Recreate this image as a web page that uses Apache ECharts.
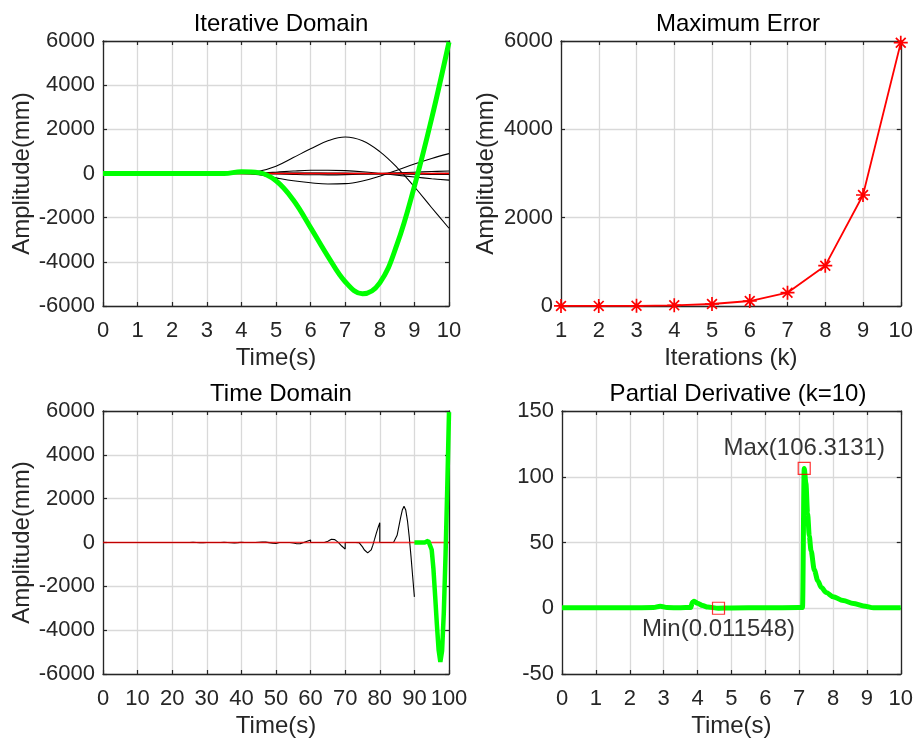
<!DOCTYPE html>
<html>
<head>
<meta charset="utf-8">
<script src="https://cdn.jsdelivr.net/npm/echarts@6/dist/echarts.min.js"></script>
<style>
html,body{margin:0;padding:0;background:#fff;}
#chart{width:916px;height:740px;}
</style>
</head>
<body>
<div id="chart"></div>
<script>
// ---------------- DATA ----------------
const iterTime = [0,0.5,1,1.5,2,2.5,3,3.5,4,4.5,5,5.5,6,6.5,7,7.5,8,8.5,9,9.5,10];
const iter1  = [0,0,0,0,0,0,0,0,0,0.3,0.6,0.8,1,0.8,0.5,0.2,0,-0.2,-0.3,-0.2,0];
const iter2  = [0,0,0,0,0,0,0,0,0.2,0.6,1.2,1.8,2,1.5,0.6,-0.4,-1.2,-1.7,-1.6,-1,-0.3];
const iter3  = [0,0,0,0,0,0,0,0,0.5,1.5,2.5,3.5,4,3,1,-1.5,-3.5,-4.8,-5,-4,-2];
const iter4  = [0,0,0,0,0,0,0,0.2,1,3,4,2,-2,-7,-11,-14,-15,-12,-6,2,10];
const iter5  = [0,0,0,0,0,0,0,0,1,5,12,18,22,22,18,8,-6,-18,-30,-38,-45];
const iter6  = [0,0,0,0,0,0,0,0,-1,-8,-25,-45,-58,-60,-52,-30,0,30,60,88,110];
const iter7  = [0,0,0,0,0,0,0,0,3,20,60,110,145,150,130,80,5,-80,-160,-235,-300];
const iter8  = [0,0,0,0,0,0,0,0,-5,-60,-200,-330,-420,-475,-460,-340,-120,150,430,680,900];
const iter9  = [0,0,0,0,0,0,0,0,10,100,330,720,1120,1480,1650,1480,990,270,-600,-1550,-2480];
const iter10 = [0,0,0,0,0,0,0,0,80,40,-330,-1200,-2450,-3750,-4900,-5450,-4950,-3200,-580,2500,5950];
const referenceTime = [0,10];
const referenceValue = [0,0];

const iterationsK = [1,2,3,4,5,6,7,8,9,10];
const maxError = [1,2,5,15,45,113,302,913,2513,5961];

const pdTime  = [0,1,2,2.7,2.9,3.1,3.5,3.8,3.85,3.9,4.0,4.15,4.3,4.62,5,6,7,7.1,7.15,7.2,7.25,7.3,7.35,7.45,7.55,7.65,7.8,8.0,8.3,8.6,8.9,9.2,9.5,10];
const pdValue = [0.4,0.3,0.4,0.5,1.6,0.5,0.4,0.6,4.5,5.3,3.8,2.0,0.9,0.011548,0.2,0.4,0.5,0.6,106.3131,95,72,55,44,29,21,16,12,8.8,5.8,3.7,1.8,0.4,0.3,0.4];
const maxPoint = [7.15, 106.3131];
const minPoint = [4.62, 0.011548];

const yTicksAmp = [-6000,6000,2000];
const yTicksErr = [0,6000,2000];
const yTicksPd  = [-50,150,50];

// ---------------- BUILD ----------------
const iters = [iter1,iter2,iter3,iter4,iter5,iter6,iter7,iter8,iter9,iter10];
const FONT = 'Liberation Sans';
const AX = '#262626';
const GRIDC = '#d9d9d9';

const grids = [
  {left:103, top:41, width:346, height:265},
  {left:561, top:41, width:344, height:265},
  {left:103, top:411, width:346, height:263},
  {left:562, top:411, width:342, height:263}
];

const xAxes = [], yAxes = [];
function addAxes(g, xr, yr, xname, yname) {
  const common = {
    type:'value', gridIndex:g,
    axisLine:{show:true, onZero:false, lineStyle:{color:AX, width:1.3}},
    axisTick:{show:true, inside:true, length:4, lineStyle:{color:AX, width:1.2}},
  };
  xAxes.push(Object.assign({}, common, {
    min:xr[0], max:xr[1], interval:xr[2], position:'bottom',
    axisLabel:{show:true, fontSize:22, color:AX, margin:14, fontFamily:FONT, formatter:v=>String(v)},
    splitLine:{show:true, lineStyle:{color:GRIDC, width:1.3}},
    name:xname, nameLocation:'middle', nameGap:40,
    nameTextStyle:{fontSize:24, color:AX, fontFamily:FONT}
  }));
  xAxes.push(Object.assign({}, common, {
    min:xr[0], max:xr[1], interval:xr[2], position:'top',
    axisLabel:{show:false}, splitLine:{show:false}
  }));
  yAxes.push(Object.assign({}, common, {
    min:yr[0], max:yr[1], interval:yr[2], position:'left',
    axisLabel:{show:true, fontSize:22, color:AX, margin:8, fontFamily:FONT, formatter:v=>String(v)},
    splitLine:{show:true, lineStyle:{color:GRIDC, width:1.3}},
    name:yname, nameLocation:'middle', nameGap: (g===1 ? 63 : 68),
    nameTextStyle:{fontSize:24, color:AX, fontFamily:FONT}
  }));
  yAxes.push(Object.assign({}, common, {
    min:yr[0], max:yr[1], interval:yr[2], position:'right',
    axisLabel:{show:false}, splitLine:{show:false}
  }));
}
addAxes(0, [0,10,1], yTicksAmp, 'Time(s)', 'Amplitude(mm)');
addAxes(1, [1,10,1], yTicksErr, 'Iterations (k)', 'Amplitude(mm)');
addAxes(2, [0,100,10], yTicksAmp, 'Time(s)', 'Amplitude(mm)');
addAxes(3, [0,10,1], yTicksPd, 'Time(s)', '');

const series = [];
// Iterative domain
for (let k = 0; k < 9; k++) {
  series.push({type:'line', xAxisIndex:0, yAxisIndex:0, symbol:'none', smooth:0.4,
    data: iterTime.map((t,i)=>[t, iters[k][i]]),
    lineStyle:{color:'#000', width:1.1}, z:2});
}
series.push({type:'line', xAxisIndex:0, yAxisIndex:0, symbol:'none',
  data: referenceTime.map((t,i)=>[t, referenceValue[i]]),
  lineStyle:{color:'#ff0000', width:1.5}, z:3});
series.push({type:'line', xAxisIndex:0, yAxisIndex:0, symbol:'none', smooth:0.4,
  data: iterTime.map((t,i)=>[t, iter10[i]]),
  lineStyle:{color:'#00ff00', width:5}, z:4});

// Maximum error
series.push({type:'line', xAxisIndex:2, yAxisIndex:2,
  data: iterationsK.map((k,i)=>[k, maxError[i]]),
  symbol:'path://M0,-10L0,10M-10,0L10,0M-7,-7L7,7M-7,7L7,-7', symbolSize:14, symbolKeepAspect:true,
  itemStyle:{color:'#ff0000', borderColor:'#ff0000', borderWidth:1.7},
  lineStyle:{color:'#ff0000', width:1.8}, z:4});

// Time domain: concatenated iterations
const blackTD = [];
for (let k = 0; k < 9; k++) {
  iterTime.forEach((t,i)=>blackTD.push([k*10 + t, iters[k][i]]));
}
series.push({type:'line', xAxisIndex:4, yAxisIndex:4, symbol:'none', data:blackTD,
  lineStyle:{color:'#000', width:1.1}, z:2});
series.push({type:'line', xAxisIndex:4, yAxisIndex:4, symbol:'none',
  data: referenceTime.map((t,i)=>[t*10, referenceValue[i]]),
  lineStyle:{color:'#ff0000', width:1.5, opacity:0.75}, z:3});
series.push({type:'line', xAxisIndex:4, yAxisIndex:4, symbol:'none',
  data: iterTime.map((t,i)=>[90 + t, iter10[i]]),
  lineStyle:{color:'#00ff00', width:4.5}, z:4});

// Partial derivative
series.push({type:'line', xAxisIndex:6, yAxisIndex:6, symbol:'none', smooth:0.3, smoothMonotone:'x',
  data: pdTime.map((t,i)=>[t, pdValue[i]]),
  lineStyle:{color:'#00ff00', width:5, join:'round'}, z:3});
series.push({type:'scatter', xAxisIndex:6, yAxisIndex:6, symbol:'rect', symbolSize:12,
  data:[maxPoint],
  itemStyle:{color:'rgba(0,0,0,0)', borderColor:'#ff0000', borderWidth:1.2},
  label:{show:true, position:'top', distance:1, formatter:'Max(' + maxPoint[1] + ')',
    fontSize:24, color:'#000', fontFamily:FONT}, z:5});
series.push({type:'scatter', xAxisIndex:6, yAxisIndex:6, symbol:'rect', symbolSize:12,
  data:[minPoint],
  itemStyle:{color:'rgba(0,0,0,0)', borderColor:'#ff0000', borderWidth:1.2},
  label:{show:true, position:'bottom', distance:3, formatter:'Min(' + minPoint[1] + ')',
    fontSize:24, color:'#000', fontFamily:FONT}, z:5});

const titleStyle = {fontSize:24, fontWeight:'normal', color:'#000', fontFamily:FONT};
const option = {
  animation:false,
  backgroundColor:'#fff',
  textStyle:{fontFamily:FONT},
  title:[
    {text:'Iterative Domain', left:276, top:7, textAlign:'center', textStyle:titleStyle},
    {text:'Maximum Error', left:733, top:7, textAlign:'center', textStyle:titleStyle},
    {text:'Time Domain', left:276, top:377, textAlign:'center', textStyle:titleStyle},
    {text:'Partial Derivative (k=10)', left:733, top:377, textAlign:'center', textStyle:titleStyle}
  ],
  grid:grids,
  xAxis:xAxes,
  yAxis:yAxes,
  series:series
};
const chart = echarts.init(document.getElementById('chart'), null, {renderer:'canvas'});
chart.setOption(option);
</script>
</body>
</html>
